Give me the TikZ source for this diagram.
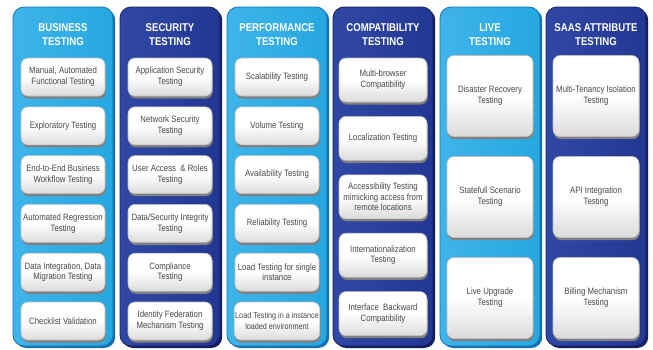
\documentclass[tikz,border=0pt]{standalone}
\usepackage{fontspec}
\setmainfont{Liberation Sans}[FakeStretch=0.85]
\definecolor{lblue}{RGB}{38,167,224}
\definecolor{lblueL}{RGB}{62,180,234}
\definecolor{lblueD}{RGB}{22,112,176}
\definecolor{dblue}{RGB}{34,55,146}
\definecolor{dblueL}{RGB}{48,72,165}
\definecolor{dblueD}{RGB}{20,30,95}
\definecolor{boxtxt}{RGB}{72,72,72}
\begin{document}
\begin{tikzpicture}[x=1pt,y=-1pt,
  colbase/.style={rounded corners=11pt, minimum width=100pt, minimum height=339pt, inner sep=0pt},
  lcol/.style={colbase, left color=lblueL, right color=lblue, draw=lblueD, line width=0.8pt,
     preaction={fill=lblueD, transform canvas={xshift=2.2pt, yshift=-2pt}}},
  dcol/.style={colbase, left color=dblueL, right color=dblue, draw=dblueD, line width=0.8pt,
     preaction={fill=dblueD, transform canvas={xshift=2.2pt, yshift=-2pt}}},
  hd/.style={text=white, align=center, font=\bfseries\fontsize{11.3}{14}\selectfont},
  tb/.style={rounded corners=7pt, minimum width=84pt, minimum height=38pt, inner sep=1pt,
     align=center, text=boxtxt, font=\fontsize{9.2}{10.8}\selectfont,
     top color=white, bottom color=gray!28, middle color=white, draw=gray!50, line width=0.6pt,
     preaction={fill=black!50, transform canvas={xshift=0.8pt, yshift=-2.6pt}}},
  tbf/.style={tb, minimum width=88pt, minimum height=44pt},
  tbt/.style={tb, minimum width=86pt, minimum height=81pt}
]
\useasboundingbox (0,0) rectangle (653,349);
\fill[white] (0,0) rectangle (653,349);

% columns
\node[lcol] (c1) at (63,176.5) {};
\node[dcol] (c2) at (170,176.5) {};
\node[lcol] (c3) at (277,176.5) {};
\node[dcol] (c4) at (383,176.5) {};
\node[lcol] (c5) at (490,176.5) {};
\node[dcol] (c6) at (596,176.5) {};

% headers
\node[hd] (h1) at (63,35) {BUSINESS\\TESTING};
\node[hd] (h2) at (170,35) {SECURITY\\TESTING};
\node[hd] (h3) at (277,35) {PERFORMANCE\\TESTING};
\node[hd] (h4) at (383,35) {COMPATIBILITY\\TESTING};
\node[hd] (h5) at (490,35) {LIVE\\TESTING};
\node[hd] (h6) at (596,35) {SAAS ATTRIBUTE\\TESTING};

% column 1
\node[tb] (a1) at (63,77) {Manual, Automated\\Functional Testing};
\node[tb] (a2) at (63,125.8) {Exploratory Testing};
\node[tb] (a3) at (63,174.6) {End-to-End Business\\Workflow Testing};
\node[tb] (a4) at (63,223.4) {Automated Regression\\Testing};
\node[tb] (a5) at (63,272.2) {Data Integration, Data\\Migration Testing};
\node[tb] (a6) at (63,321) {Checklist Validation};

% column 2
\node[tb] (b1) at (170,77) {Application Security\\Testing};
\node[tb] (b2) at (170,125.8) {Network Security\\Testing};
\node[tb] (b3) at (170,174.6) {User Access \ \& Roles\\Testing};
\node[tb] (b4) at (170,223.4) {Data/Security Integrity\\Testing};
\node[tb] (b5) at (170,272.2) {Compliance\\Testing};
\node[tb] (b6) at (170,321) {Identity Federation\\Mechanism Testing};

% column 3
\node[tb] (p1) at (277,77) {Scalability Testing};
\node[tb] (p2) at (277,125.8) {Volume Testing};
\node[tb] (p3) at (277,174.6) {Availability Testing};
\node[tb] (p4) at (277,223.4) {Reliability Testing};
\node[tb] (p5) at (277,272.2) {Load Testing for single\\instance};
\node[tb, font=\fontsize{8.5}{10.8}\selectfont] (p6) at (277,321) {Load Testing in a instance\\loaded environment};

% column 4
\node[tbf] (m1) at (383,80) {Multi-browser\\Compatibility};
\node[tbf] (m2) at (383,138.4) {Localization Testing};
\node[tbf] (m3) at (383,196.8) {Accessibility Testing\\mimicking access from\\remote locations};
\node[tbf] (m4) at (383,255.2) {Internationalization\\Testing};
\node[tbf] (m5) at (383,313.6) {Interface \ Backward\\Compatibility};

% column 5
\node[tbt] (l1) at (490,96) {Disaster Recovery\\Testing};
\node[tbt] (l2) at (490,197) {Statefull Scenario\\Testing};
\node[tbt] (l3) at (490,298) {Live Upgrade\\Testing};

% column 6
\node[tbt] (s1) at (596,96) {Multi-Tenancy Isolation\\Testing};
\node[tbt] (s2) at (596,197) {API Integration\\Testing};
\node[tbt] (s3) at (596,298) {Billing Mechanism\\Testing};
\end{tikzpicture}
\end{document}
